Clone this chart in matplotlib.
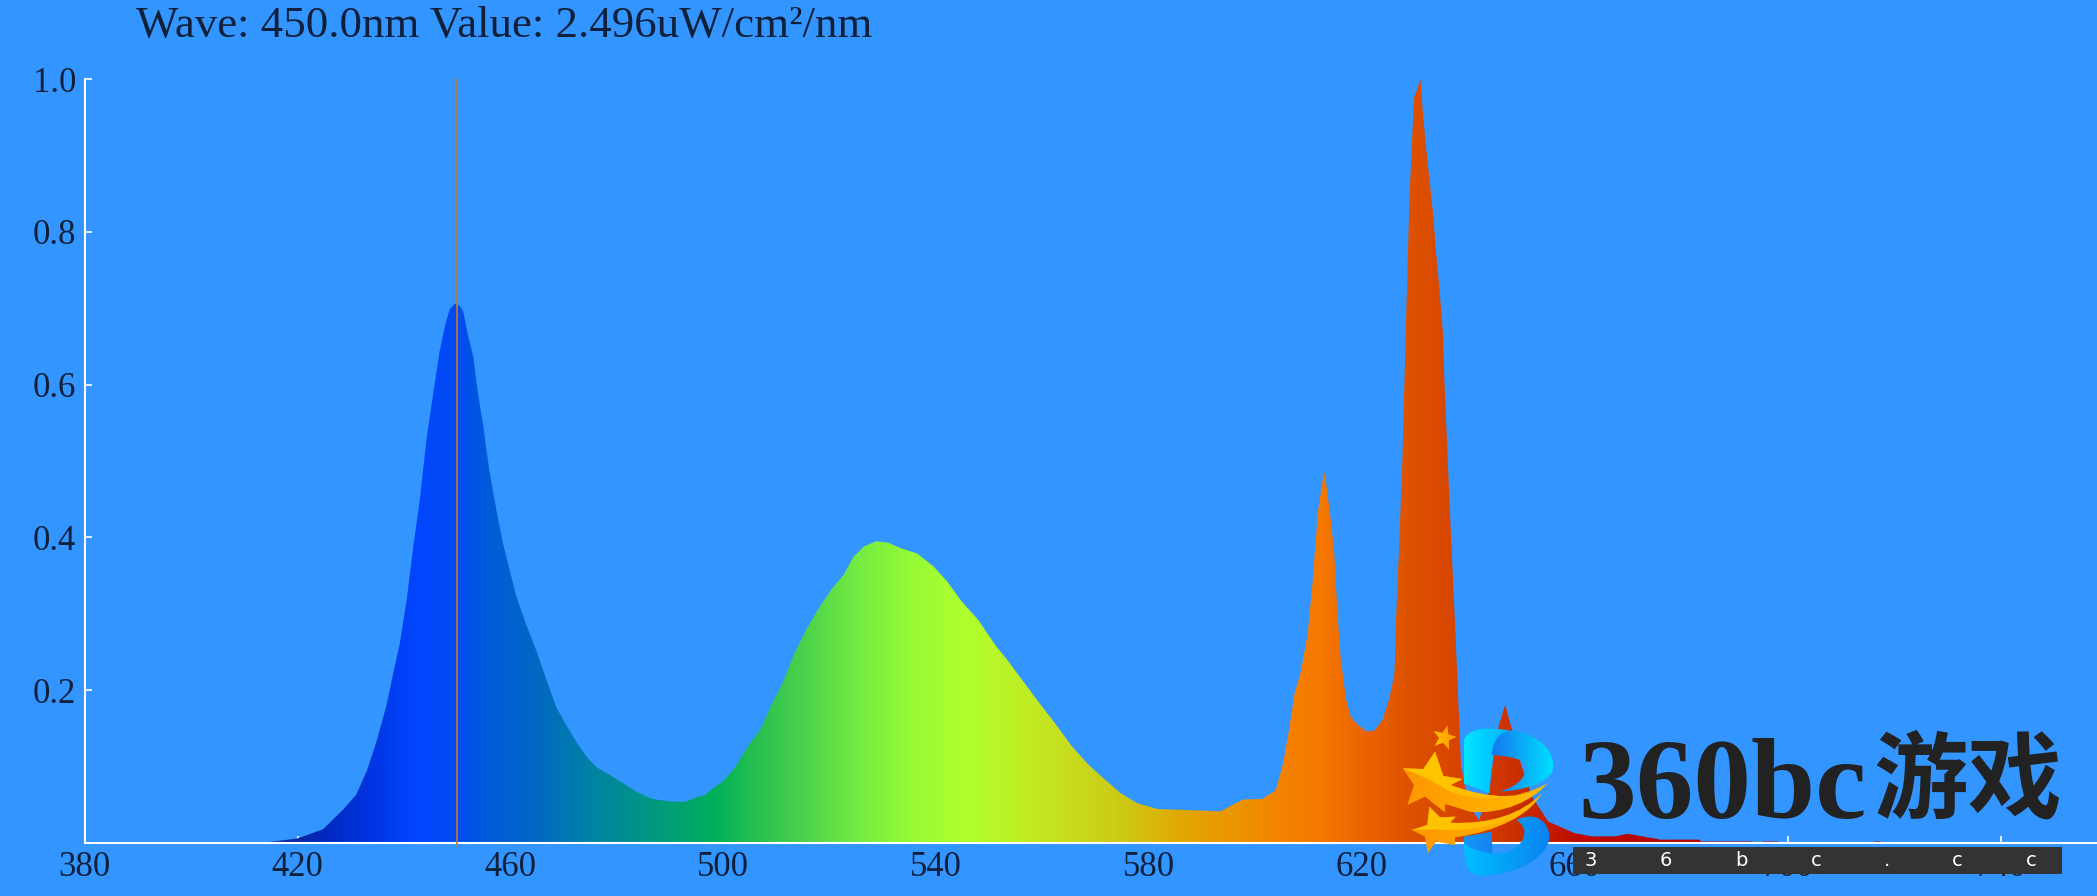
import numpy as np
import matplotlib
matplotlib.use('Agg')
import matplotlib.pyplot as plt
from matplotlib.path import Path
from matplotlib.patches import PathPatch, Rectangle

# spectrum
wave = [414.8, 420, 424.8, 428.6, 431, 433, 434.8, 436.7, 438, 439.2, 440.5, 441.7, 443, 444.2, 445.5,
        446.7, 447.7, 448.6, 449.6, 450.5, 451.1, 452, 453, 453.6, 454.2, 454.9, 455.5, 456.1, 456.7,
        457.7, 458.6, 459.9, 461.1, 463, 464.9, 466.8, 468.6, 470.5, 472.4, 474.3, 476.2, 478.7, 481.2,
        483.7, 486.5, 489.7, 492.7, 494.3, 496.6, 498.1, 500, 502.3, 504.6, 506.9, 508.8, 511.1, 513.4,
        515.7, 518, 520.3, 522.6, 524.5, 526.4, 528.7, 531, 533.3, 536.4, 539.5, 542.1, 544.8, 547.9,
        551, 553.3, 556.3, 559.4, 562.5, 565.5, 568.6, 571.7, 574.7, 577.8, 581.6, 587.7, 593.5, 595.4,
        597.7, 601.2, 603.8, 605.1, 606.3, 607.3, 608.5, 609.8, 610.7, 611.7, 612.6, 613, 613.5, 614.2,
        614.8, 615.4, 616, 617, 617.9, 619.2, 620.8, 622.3, 623.9, 625.1, 626.1, 626.4, 627, 627.6,
        628.3, 628.6, 628.9, 629.2, 629.5, 629.8, 630.5, 631, 631.4, 632, 632.7, 633.3, 633.9, 634.5,
        635.2, 635.5, 636.1, 636.7, 637.4, 638, 638.6, 640, 642, 644, 645.2, 646, 646.9, 648.5, 650,
        652, 655, 659.9, 663.2, 667.5, 670, 673.3, 676.1, 683.3, 683.8, 693.4, 693.6, 695.2, 695.3,
        698.2, 698.3, 716.2, 716.3, 717.4, 717.5]
value = [0.0014, 0.006, 0.018, 0.044, 0.063, 0.094, 0.132, 0.18, 0.223, 0.261, 0.318, 0.385, 0.451, 0.527, 0.589,
         0.644, 0.677, 0.699, 0.706, 0.703, 0.696, 0.665, 0.637, 0.604, 0.575, 0.546, 0.513, 0.485, 0.461,
         0.423, 0.392, 0.356, 0.323, 0.285, 0.251, 0.213, 0.178, 0.154, 0.132, 0.113, 0.099, 0.089, 0.078,
         0.067, 0.058, 0.0545, 0.0537, 0.058, 0.063, 0.072, 0.081, 0.1, 0.1265, 0.148, 0.177, 0.209, 0.249,
         0.281, 0.308, 0.332, 0.351, 0.375, 0.388, 0.395, 0.393, 0.386, 0.379, 0.362, 0.342, 0.316, 0.292,
         0.26, 0.24, 0.212, 0.183, 0.155, 0.1265, 0.1025, 0.083, 0.065, 0.052, 0.0445, 0.043, 0.0415, 0.049,
         0.057, 0.0576, 0.069, 0.102, 0.148, 0.195, 0.224, 0.274, 0.34, 0.432, 0.475, 0.485, 0.458, 0.419,
         0.379, 0.3, 0.241, 0.188, 0.165, 0.155, 0.146, 0.147, 0.1615, 0.188, 0.221, 0.293, 0.392, 0.504,
         0.689, 0.762, 0.841, 0.887, 0.933, 0.976, 0.989, 1.0, 0.959, 0.913, 0.867, 0.828, 0.775, 0.729,
         0.669, 0.603, 0.504, 0.405, 0.3, 0.201, 0.102, 0.05, 0.03, 0.07, 0.142, 0.16, 0.181, 0.14, 0.1,
         0.06, 0.028, 0.013, 0.0087, 0.0087, 0.012, 0.0079, 0.0044, 0.0044, 0.002, 0.002, 0, 0, 0.002,
         0.002, 0, 0, 0.002, 0.002, 0]

x_ticks = [380, 420, 460, 500, 540, 580, 620, 660, 700, 740]
y_ticks = [0.2, 0.4, 0.6, 0.8, 1.0]
cursor_wave = 450.0
header = 'Wave: 450.0nm Value: 2.496uW/cm²/nm'

# colour of the fill at each wavelength
stop_wave = [415, 425, 435, 442, 450, 455, 465, 475, 488, 498, 505, 515, 525, 535, 545, 555, 565, 575,
             585, 595, 605, 612, 620, 630, 640, 650, 660, 680]
stop_rgb = [(20, 40, 150), (0, 40, 190), (0, 55, 230), (0, 70, 255), (0, 75, 240), (0, 90, 220), (0, 105, 195),
            (0, 130, 165), (0, 155, 125), (0, 175, 90), (35, 190, 80), (75, 210, 75), (115, 235, 65),
            (150, 250, 55), (175, 255, 45), (190, 240, 35), (200, 220, 30), (205, 200, 20), (225, 170, 5),
            (235, 150, 0), (245, 130, 0), (245, 120, 0), (235, 100, 0), (220, 80, 0), (215, 65, 0),
            (200, 45, 0), (190, 10, 0), (180, 0, 0)]

BG = '#3395FF'
INK = '#10203A'

fig = plt.figure(figsize=(20.97, 8.96), dpi=100, facecolor=BG)
ax = fig.add_axes([84.7 / 2097, 53 / 896, (2097 - 84.7) / 2097, 764 / 896], facecolor=BG)

# gradient fill, clipped to the area under the curve
poly = ax.fill_between(wave, value, 0, facecolor='none', edgecolor='none')
grid = np.arange(414, 720, 0.25)
stops = np.array(stop_rgb) / 255
row = np.stack([np.interp(grid, stop_wave, stops[:, i]) for i in range(3)], axis=1)
im = ax.imshow(row[np.newaxis, :, :], extent=(414, 720, 0, 1), aspect='auto', zorder=2, interpolation='bilinear')
im.set_clip_path(poly.get_paths()[0], ax.transData)
ax.set_xlim(380, 380 + (2097 - 84.7) / 5.322)
ax.set_ylim(0, 1)

ax.plot([cursor_wave, cursor_wave], [-0.003, 1], color='#C07A30', lw=1.2, zorder=4, clip_on=False)

for side in ['top', 'right']:
    ax.spines[side].set_visible(False)
for side in ['left', 'bottom']:
    ax.spines[side].set_color('white')
    ax.spines[side].set_linewidth(1.5)
    ax.spines[side].set_zorder(3)

ax.set_xticks(x_ticks)
ax.set_yticks(y_ticks)
ax.set_yticklabels(['%.1f' % v for v in y_ticks])
ax.tick_params(axis='both', direction='in', length=5, width=1.2, color='white', labelcolor=INK,
               labelsize=25, pad=6)
for t in ax.get_xticklabels() + ax.get_yticklabels():
    t.set_family('Liberation Serif')

fig.text(136 / 2097, 1 - 26 / 896, header, family='Liberation Serif', fontsize=32.3, color=INK,
         ha='left', va='center')

# watermark, drawn in image pixels on a second axes
over = fig.add_axes([0, 0, 1, 1], facecolor='none', zorder=5)
over.axis('off')


def logo_path(parts):
    # parts are in crop coordinates (3x, from 1390,700); 2 numbers a line, 6 numbers a cubic
    verts = [parts[0]]
    codes = [Path.MOVETO]
    for seg in parts[1:]:
        if len(seg) == 2:
            verts.append(seg)
            codes.append(Path.LINETO)
        else:
            verts.extend([seg[0:2], seg[2:4], seg[4:6]])
            codes.extend([Path.CURVE4] * 3)
    verts.append(parts[0])
    codes.append(Path.CLOSEPOLY)
    v = np.array(verts, dtype=float)
    return Path(np.column_stack([1390 + v[:, 0] / 3, 700 + v[:, 1] / 3]), codes)


def grad_fill(path, c0, c1, z):
    x0, y0 = path.vertices.min(axis=0)
    x1, y1 = path.vertices.max(axis=0)
    a = np.linspace(0, 1, 64)[:, np.newaxis]
    col = (1 - a) * np.array(c0) / 255 + a * np.array(c1) / 255
    img = over.imshow(col[np.newaxis, :, :], extent=(x0, x1, y1, y0), aspect='auto', zorder=z)
    patch = PathPatch(path, transform=over.transData, facecolor='none', edgecolor='none')
    over.add_patch(patch)
    img.set_clip_path(patch)


def star(cx, cy, R, r, rot):
    ang = np.radians(rot) + np.arange(10) * np.pi / 5
    rad = np.where(np.arange(10) % 2 == 0, R, r)
    return [(cx + rad[i] * np.sin(ang[i]), cy - rad[i] * np.cos(ang[i])) for i in range(10)]


# B
grad_fill(logo_path([(222, 410), (305, 395), (308, 462), (265, 460), (222, 432)]), (20, 150, 250), (20, 130, 240), 6)
grad_fill(logo_path([(222, 250), (222, 120), (235, 85, 290, 78, 360, 92), (320, 105, 305, 150, 298, 280)]),
          (0, 230, 255), (0, 175, 255), 6)
grad_fill(logo_path([(305, 165), (310, 110, 340, 90, 370, 92), (430, 100, 490, 140, 490, 200),
                     (490, 240, 420, 270, 330, 275), (390, 255, 405, 230, 408, 205),
                     (410, 185, 385, 170, 305, 165)]), (20, 120, 240), (0, 225, 255), 7)
grad_fill(logo_path([(380, 360), (440, 330, 478, 370, 478, 410), (478, 470, 380, 525, 280, 527),
                     (240, 527, 222, 510, 222, 430), (250, 455, 300, 460, 320, 460),
                     (370, 460, 400, 430, 403, 400), (405, 385, 395, 370, 380, 360)]),
          (0, 190, 255), (10, 130, 240), 7)

# stars and their tails
grad_fill(logo_path(star(163, 113, 38, 16, 14)), (255, 190, 0), (255, 150, 0), 8)
grad_fill(logo_path([(38, 205), (100, 207), (135, 155), (160, 228), (217, 237), (182, 255),
                     (300, 300, 400, 300, 472, 250), (430, 300, 340, 345, 240, 335), (165, 312),
                     (165, 337), (105, 290), (52, 315), (72, 255)]), (255, 150, 0), (255, 190, 0), 8)
grad_fill(logo_path([(38, 205), (100, 207), (135, 155), (160, 228), (217, 237), (182, 255),
                     (300, 300, 400, 300, 472, 250), (380, 300, 260, 310, 170, 270), (100, 225, 60, 215, 38, 205)]),
          (255, 200, 0), (255, 180, 0), 9)
grad_fill(logo_path([(65, 390), (112, 375), (118, 320), (150, 352), (197, 350), (180, 368),
                     (300, 375, 400, 340, 455, 280), (420, 345, 320, 395, 195, 412), (195, 435),
                     (138, 425), (113, 460), (105, 410)]), (255, 150, 0), (255, 185, 0), 8)
grad_fill(logo_path([(65, 390), (112, 375), (118, 320), (150, 352), (197, 350), (180, 368),
                     (300, 375, 400, 340, 455, 280), (390, 370, 250, 400, 130, 388)]),
          (255, 200, 0), (255, 180, 0), 9)

# watermark text
over.text(1578, 818, '360bc', family='Liberation Serif', fontweight='bold', fontsize=83, color='#222222',
          ha='left', va='baseline', zorder=10)
over.text(1968, 782, '游戏', family='Noto Sans CJK SC', fontweight='bold', fontsize=68, color='#222222',
          ha='center', va='center', zorder=10)
over.add_patch(Rectangle((1573, 847), 489, 27, facecolor='#333333', edgecolor='none', zorder=10))
strip_chars = ['3', '6', 'b', 'c', '.', 'c', 'c']
strip_x = [1591, 1666, 1741, 1816, 1887, 1957, 2031]
for ch, cx in zip(strip_chars, strip_x):
    over.text(cx, 860, ch, family='DejaVu Sans', fontsize=14, color='white', ha='center', va='center', zorder=11)
over.set_xlim(0, 2097)
over.set_ylim(896, 0)

fig.savefig('out.png', dpi=100, facecolor=BG)
